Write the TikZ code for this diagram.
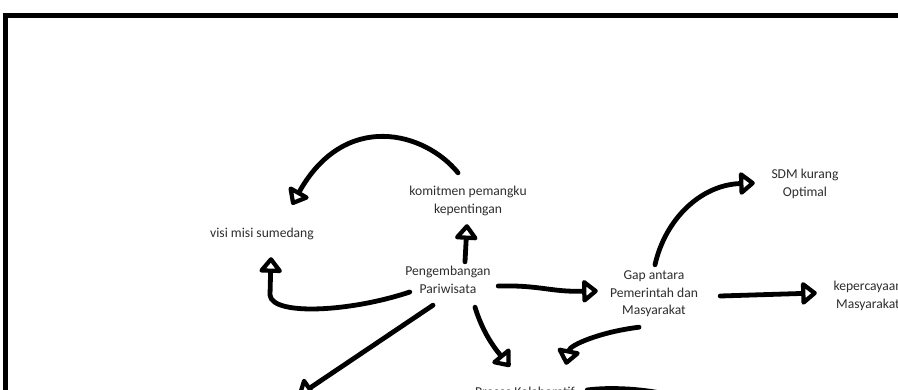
\documentclass[tikz,border=0pt]{standalone}
\usepackage{fontspec}
\setmainfont{Carlito}
\usetikzlibrary{arrows.meta}
\begin{document}
\begin{tikzpicture}[x=1pt,y=-1pt,
  lbl/.style={inner sep=0pt, align=center, font=\fontsize{13.6}{17.5}\selectfont, text=black!82},
  conn/.style={line width=4.8pt, line cap=round, line join=round,
    -{Triangle[open,round,length=17pt,width=26pt]}},
  plainline/.style={line width=4.8pt, line cap=round, line join=round},
  frame/.style={line width=5pt}]
\useasboundingbox (0,0) rectangle (898,390);
\clip (0,0) rectangle (898,390);
\fill[white] (0,0) rectangle (898,390);
\draw[frame] (5,15.5) rectangle (920,420);

\node[lbl, minimum width=124pt, minimum height=36pt] (komit) at (468,201) {komitmen pemangku\\kepentingan};
\node[lbl, minimum width=120pt, minimum height=18pt] (visi) at (262,234) {visi misi sumedang};
\node[lbl, minimum width=92pt, minimum height=36pt] (peng) at (448,280) {Pengembangan\\Pariwisata};
\node[lbl, minimum width=96pt, minimum height=52pt] (gap) at (654,294) {Gap antara\\Pemerintah dan\\Masyarakat};
\node[lbl, minimum width=76pt, minimum height=36pt] (sdm) at (805,184) {SDM kurang\\Optimal};
\node[lbl, minimum width=76pt, minimum height=36pt] (kep) at (868,296) {kepercayaan\\Masyarakat};
\node[lbl, minimum width=104pt, minimum height=18pt] (proses) at (525,392) {Proses Kolaboratif};
\coordinate (offleft) at (298,396);
\coordinate (offright) at (660,393);

% komitmen -> visi misi
\draw[conn] ([shift={(-10,-10)}]komit.north) .. controls (425,132) and (345,110) .. ([shift={(30,-20)}]visi.north);
% pengembangan -> komitmen
\draw[conn] ([shift={(17,0)}]peng.north) -- ([shift={(-1,5)}]komit.south);
% pengembangan -> visi misi
\draw[conn] ([shift={(8,12)}]peng.west) .. controls (350,312) and (272,316) .. (270,295) -- ([shift={(9,14)}]visi.south);
% pengembangan -> gap
\draw[conn] ([shift={(4,6)}]peng.east) .. controls (540,285) and (550,292) .. ([shift={(-8,-3)}]gap.west);
% gap -> sdm
\draw[conn] ([shift={(1,-3)}]gap.north) .. controls (665,220) and (700,185) .. ([shift={(-12,-1)}]sdm.west);
% gap -> kepercayaan
\draw[conn] ([shift={(18,2)}]gap.east) -- ([shift={(-13,-3)}]kep.west);
% gap -> proses
\draw[conn] ([shift={(-15,7)}]gap.south) .. controls (600,332) and (570,345) .. ([shift={(41,-18)}]proses.north);
% pengembangan -> proses
\draw[conn] ([shift={(27,9)}]peng.south) .. controls (482,330) and (492,345) .. ([shift={(-15,-16)}]proses.north);
% pengembangan -> off picture (left)
\draw[conn] ([shift={(-15,7)}]peng.south) -- (offleft);
% proses -> off picture (right)
\draw[plainline] ([shift={(10,-2)}]proses.east) .. controls (610,387) and (640,389) .. (offright);
\end{tikzpicture}
\end{document}
